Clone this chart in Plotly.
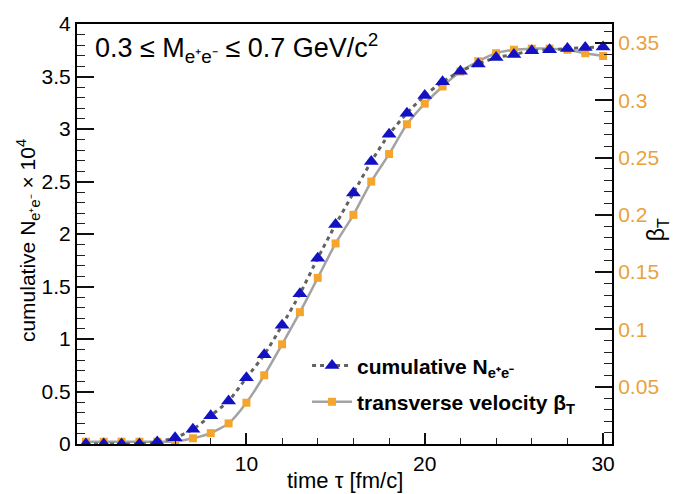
import plotly.graph_objects as go

# ---- data ----
tau = list(range(1, 31))
cum_N = [0, 0, 0, 0, 0.02, 0.06, 0.14, 0.27, 0.41, 0.63,
         0.85, 1.13, 1.43, 1.77, 2.09, 2.39, 2.69, 2.95, 3.15, 3.32,
         3.45, 3.55, 3.62, 3.68, 3.71, 3.745, 3.755, 3.766, 3.776, 3.78]
beta_T = [0.002, 0.002, 0.002, 0.002, 0.002, 0.002, 0.005, 0.0095, 0.018, 0.036,
          0.06, 0.087, 0.115, 0.145, 0.175, 0.2, 0.229, 0.253, 0.279, 0.297,
          0.312, 0.325, 0.334, 0.341, 0.344, 0.345, 0.345, 0.344, 0.341, 0.3386]
left_ticks = [0, 0.5, 1, 1.5, 2, 2.5, 3, 3.5, 4]
left_ticktext = ["0", "0.5", "1", "1.5", "2", "2.5", "3", "3.5", "4"]
right_ticks = [0.05, 0.1, 0.15, 0.2, 0.25, 0.3, 0.35]
right_ticktext = ["0.05", "0.1", "0.15", "0.2", "0.25", "0.3", "0.35"]
x_ticks = [10, 20, 30]

FONT = "Liberation Sans, Arial, Helvetica, sans-serif"
BLUE = "#1212C4"
ORANGE = "#F5A42C"
ORANGE_TXT = "#E9A23A"
MAJC = "#111111"
MINC = "#222222"

fig = go.Figure()

fig.add_trace(go.Scatter(
    x=tau, y=beta_T, yaxis="y", mode="lines+markers",
    name="<b>transverse velocity β<sub>T</sub></b>",
    line=dict(color="#a3a3a3", width=2.5, shape="spline", smoothing=0.6),
    marker=dict(symbol="square", size=8, color=ORANGE),
    legendgroup="b", legendrank=2,
))
fig.add_trace(go.Scatter(
    x=tau, y=cum_N, yaxis="y2", mode="lines+markers",
    name="<b>cumulative N<sub>e⁺e⁻</sub></b>",
    line=dict(color="#626262", width=3, dash="4px,4px", shape="spline", smoothing=0.6),
    marker=dict(symbol="triangle-up", size=13, color=BLUE),
    legendgroup="a", legendrank=1,
))

fig.update_layout(
    width=681, height=494,
    margin=dict(l=77, r=69, t=16, b=50),
    paper_bgcolor="white", plot_bgcolor="white",
    font=dict(family=FONT, color="black", size=21),
    xaxis=dict(range=[0.5, 30.5], tickmode="array", tickvals=x_ticks,
               ticks="inside", ticklen=11, tickwidth=1.5, tickcolor=MAJC,
               minor=dict(dtick=2, tick0=0, ticks="inside", ticklen=6,
                          tickcolor=MINC, tickwidth=1.3),
               showgrid=False, zeroline=False, showline=True,
               linecolor="black", linewidth=2, mirror=True,
               tickfont=dict(size=21)),
    yaxis=dict(side="right", anchor="x", range=[0, 0.3665],
               tickmode="array", tickvals=right_ticks, ticktext=right_ticktext,
               ticks="inside", ticklen=17, tickwidth=1.5, tickcolor=MAJC,
               minor=dict(dtick=0.01, tick0=0, ticks="inside", ticklen=8,
                          tickcolor=MINC, tickwidth=1.3),
               showgrid=False, zeroline=False, showline=True,
               linecolor="black", linewidth=2,
               tickfont=dict(size=21, color=ORANGE_TXT)),
    yaxis2=dict(side="left", anchor="x", overlaying="y", range=[0, 4],
                tickmode="array", tickvals=left_ticks, ticktext=left_ticktext,
                ticks="inside", ticklen=17, tickwidth=1.5, tickcolor=MAJC,
                minor=dict(dtick=0.1, tick0=0, ticks="inside", ticklen=8,
                           tickcolor=MINC, tickwidth=1.3),
                showgrid=False, zeroline=False, showline=True,
                linecolor="black", linewidth=2,
                tickfont=dict(size=21)),
    legend=dict(x=0.43, y=0.235, xanchor="left", yanchor="top",
                bgcolor="rgba(0,0,0,0)", font=dict(size=21, family=FONT),
                tracegroupgap=6, itemwidth=40),
    showlegend=True,
)

fig.add_annotation(xref="paper", yref="paper", x=0.03, y=0.944,
                   xanchor="left", yanchor="middle", showarrow=False,
                   text="0.3 ≤ M<sub>e⁺e⁻</sub> ≤ 0.7 GeV/c<sup>2</sup>",
                   font=dict(size=27, family=FONT))
fig.add_annotation(xref="paper", yref="paper", x=-0.092, y=0.485,
                   xanchor="center", yanchor="middle", showarrow=False, textangle=-90,
                   text="cumulative N<sub>e⁺e⁻</sub> × 10<sup>4</sup>",
                   font=dict(size=21, family=FONT))
fig.add_annotation(xref="paper", yref="paper", x=1.085, y=0.51,
                   xanchor="center", yanchor="middle", showarrow=False, textangle=-90,
                   text="β<sub>T</sub>", font=dict(size=23, family=FONT))
fig.add_annotation(xref="paper", yref="paper", x=0.5, y=-0.088,
                   xanchor="center", yanchor="middle", showarrow=False,
                   text="time τ [fm/c]", font=dict(size=22, family=FONT))

fig.write_html("out.html")
